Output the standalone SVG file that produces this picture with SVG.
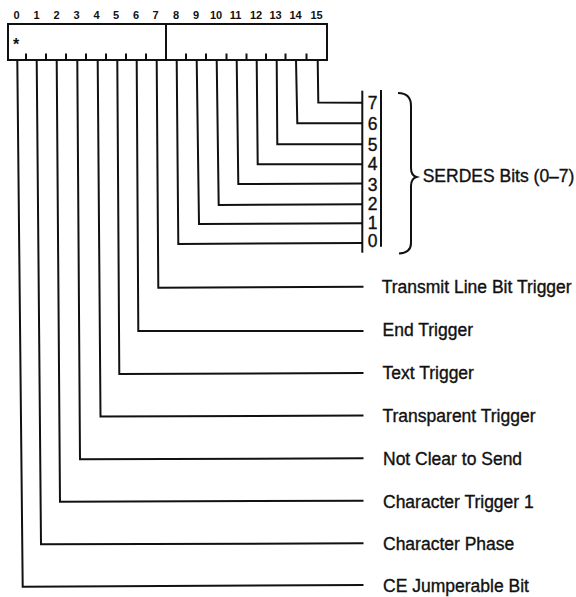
<svg xmlns="http://www.w3.org/2000/svg" width="576" height="597" viewBox="0 0 576 597">
<style>
.ln{fill:none;stroke:#111;stroke-width:2;stroke-linejoin:miter}
.lbl{font-family:"Liberation Sans",Arial,sans-serif;font-size:17.5px;fill:#111;stroke:#111;stroke-width:0.35}
.bit{font-family:"Liberation Sans",Arial,sans-serif;font-size:11px;font-weight:bold;fill:#111;text-anchor:middle}
.dg{font-family:"Liberation Sans",Arial,sans-serif;font-size:17.5px;fill:#111;stroke:#111;stroke-width:0.35;text-anchor:middle}
</style>
<rect width="576" height="597" fill="#fff"/>
<g id="register">
<rect class="ln" x="8" y="24" width="319" height="36"/>
<line class="ln" x1="166" y1="24" x2="166" y2="60"/>
<path class="ln" d="M26,53.5V60M46,53.5V60M66,53.5V60M86,53.5V60M106,53.5V60M126,53.5V60M146,53.5V60M186,53.5V60M206,53.5V60M226.5,53.5V60M246.5,53.5V60M266,53.5V60M285.5,53.5V60M306.5,53.5V60"/>
<text x="16" y="50" style="font-family:'Liberation Sans',Arial,sans-serif;font-size:16px;font-weight:bold;fill:#111" text-anchor="middle">*</text>
<g>
<text class="bit" x="16.5" y="19">0</text>
<text class="bit" x="36.5" y="19">1</text>
<text class="bit" x="56.5" y="19">2</text>
<text class="bit" x="76.5" y="19">3</text>
<text class="bit" x="96.5" y="19">4</text>
<text class="bit" x="116" y="19">5</text>
<text class="bit" x="136" y="19">6</text>
<text class="bit" x="155.5" y="19">7</text>
<text class="bit" x="176" y="19">8</text>
<text class="bit" x="196" y="19">9</text>
<text class="bit" x="216" y="19">10</text>
<text class="bit" x="235.5" y="19">11</text>
<text class="bit" x="256" y="19">12</text>
<text class="bit" x="275.5" y="19">13</text>
<text class="bit" x="295.5" y="19">14</text>
<text class="bit" x="316.5" y="19">15</text>
</g>
</g>
<g id="serdes">
<line class="ln" x1="362.3" y1="90.7" x2="362.3" y2="252.7"/>
<line class="ln" x1="381" y1="90" x2="381" y2="246.7"/>
<text class="dg" x="372.5" y="108.5">7</text>
<text class="dg" x="372.5" y="129.5">6</text>
<text class="dg" x="372.5" y="150.5">5</text>
<text class="dg" x="372.5" y="170">4</text>
<text class="dg" x="372.5" y="190.5">3</text>
<text class="dg" x="372.5" y="210">2</text>
<text class="dg" x="372.5" y="228.5">1</text>
<text class="dg" x="372.5" y="247">0</text>
<path class="ln" d="M398,93 C407,93 411,97 411,106 L411,168 C411,173 413,176 416.5,177 C413,178 411,181 411,186 L411,243 C411,250 407,253 399,253.5"/>
<text class="lbl" x="422.7" y="182">SERDES Bits (0–7)</text>
</g>
<g id="connectors">
<polyline class="ln" points="17.3,60 22.7,586.7 363.5,585"/>
<polyline class="ln" points="36.7,60 41,544.3 363.5,543.3"/>
<polyline class="ln" points="56.7,60 60,501.7 363.5,500.7"/>
<polyline class="ln" points="77.3,60 80,459.3 363.5,458.3"/>
<polyline class="ln" points="97.7,60 100.5,416.5 363.5,415.5"/>
<polyline class="ln" points="117.3,60 119.3,374 363.5,373"/>
<polyline class="ln" points="136.7,60 138.3,331 363.5,331"/>
<polyline class="ln" points="156.7,60 158.3,287.7 363.5,286.7"/>
<polyline class="ln" points="176.7,60 178.3,244 362.3,243"/>
<polyline class="ln" points="196.7,60 199,224 362.3,223.3"/>
<polyline class="ln" points="216.7,60 218.7,205 362.3,204.3"/>
<polyline class="ln" points="236.7,60 238.3,184 362.3,183.5"/>
<polyline class="ln" points="256.7,60 257.7,164.3 362.3,164.3"/>
<polyline class="ln" points="276.7,60 277.3,144.3 362.3,144.3"/>
<polyline class="ln" points="296,60 297.3,123.3 362.3,123.3"/>
<polyline class="ln" points="317.7,60 318.3,102.5 362.3,102.7"/>
</g>
<g id="labels">
<text class="lbl" x="381.7" y="292.5">Transmit Line Bit Trigger</text>
<text class="lbl" x="382.5" y="336">End Trigger</text>
<text class="lbl" x="382.5" y="379">Text Trigger</text>
<text class="lbl" x="382.5" y="421.5">Transparent Trigger</text>
<text class="lbl" x="383" y="465">Not Clear to Send</text>
<text class="lbl" x="383" y="507.5">Character Trigger 1</text>
<text class="lbl" x="383" y="550">Character Phase</text>
<text class="lbl" x="383" y="592">CE Jumperable Bit</text>
</g>
</svg>
